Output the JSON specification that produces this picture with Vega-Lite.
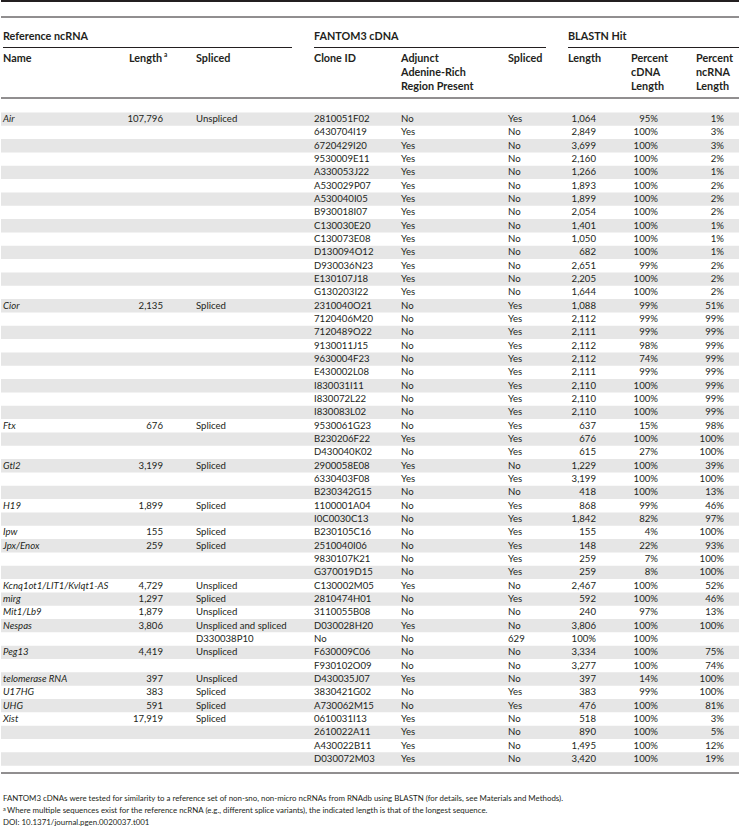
{
  "$schema": "https://vega.github.io/schema/vega-lite/v6.json",
  "autosize": {"type": "fit", "contains": "padding"},
  "width": 740,
  "height": 827,
  "padding": 0,
  "background": "white",
  "config": {"view": {"stroke": null}},
  "datasets": {
    "rows": [
      {"name": "Air", "len": "107,796", "spl": "Unspliced", "clone": "2810051F02", "ar": "No", "spl2": "Yes", "blen": "1,064", "pc": "95%", "pn": "1%"},
      {"name": "", "len": "", "spl": "", "clone": "6430704I19", "ar": "Yes", "spl2": "No", "blen": "2,849", "pc": "100%", "pn": "3%"},
      {"name": "", "len": "", "spl": "", "clone": "6720429I20", "ar": "Yes", "spl2": "No", "blen": "3,699", "pc": "100%", "pn": "3%"},
      {"name": "", "len": "", "spl": "", "clone": "9530009E11", "ar": "Yes", "spl2": "No", "blen": "2,160", "pc": "100%", "pn": "2%"},
      {"name": "", "len": "", "spl": "", "clone": "A330053J22", "ar": "Yes", "spl2": "No", "blen": "1,266", "pc": "100%", "pn": "1%"},
      {"name": "", "len": "", "spl": "", "clone": "A530029P07", "ar": "Yes", "spl2": "No", "blen": "1,893", "pc": "100%", "pn": "2%"},
      {"name": "", "len": "", "spl": "", "clone": "A530040I05", "ar": "Yes", "spl2": "No", "blen": "1,899", "pc": "100%", "pn": "2%"},
      {"name": "", "len": "", "spl": "", "clone": "B930018I07", "ar": "Yes", "spl2": "No", "blen": "2,054", "pc": "100%", "pn": "2%"},
      {"name": "", "len": "", "spl": "", "clone": "C130030E20", "ar": "Yes", "spl2": "No", "blen": "1,401", "pc": "100%", "pn": "1%"},
      {"name": "", "len": "", "spl": "", "clone": "C130073E08", "ar": "Yes", "spl2": "No", "blen": "1,050", "pc": "100%", "pn": "1%"},
      {"name": "", "len": "", "spl": "", "clone": "D130094O12", "ar": "Yes", "spl2": "No", "blen": "682", "pc": "100%", "pn": "1%"},
      {"name": "", "len": "", "spl": "", "clone": "D930036N23", "ar": "Yes", "spl2": "No", "blen": "2,651", "pc": "99%", "pn": "2%"},
      {"name": "", "len": "", "spl": "", "clone": "E130107J18", "ar": "Yes", "spl2": "No", "blen": "2,205", "pc": "100%", "pn": "2%"},
      {"name": "", "len": "", "spl": "", "clone": "G130203I22", "ar": "Yes", "spl2": "No", "blen": "1,644", "pc": "100%", "pn": "2%"},
      {"name": "Cior", "len": "2,135", "spl": "Spliced", "clone": "2310040O21", "ar": "No", "spl2": "Yes", "blen": "1,088", "pc": "99%", "pn": "51%"},
      {"name": "", "len": "", "spl": "", "clone": "7120406M20", "ar": "No", "spl2": "Yes", "blen": "2,112", "pc": "99%", "pn": "99%"},
      {"name": "", "len": "", "spl": "", "clone": "7120489O22", "ar": "No", "spl2": "Yes", "blen": "2,111", "pc": "99%", "pn": "99%"},
      {"name": "", "len": "", "spl": "", "clone": "9130011J15", "ar": "No", "spl2": "Yes", "blen": "2,112", "pc": "98%", "pn": "99%"},
      {"name": "", "len": "", "spl": "", "clone": "9630004F23", "ar": "No", "spl2": "Yes", "blen": "2,112", "pc": "74%", "pn": "99%"},
      {"name": "", "len": "", "spl": "", "clone": "E430002L08", "ar": "No", "spl2": "Yes", "blen": "2,111", "pc": "99%", "pn": "99%"},
      {"name": "", "len": "", "spl": "", "clone": "I830031I11", "ar": "No", "spl2": "Yes", "blen": "2,110", "pc": "100%", "pn": "99%"},
      {"name": "", "len": "", "spl": "", "clone": "I830072L22", "ar": "No", "spl2": "Yes", "blen": "2,110", "pc": "100%", "pn": "99%"},
      {"name": "", "len": "", "spl": "", "clone": "I830083L02", "ar": "No", "spl2": "Yes", "blen": "2,110", "pc": "100%", "pn": "99%"},
      {"name": "Ftx", "len": "676", "spl": "Spliced", "clone": "9530061G23", "ar": "No", "spl2": "Yes", "blen": "637", "pc": "15%", "pn": "98%"},
      {"name": "", "len": "", "spl": "", "clone": "B230206F22", "ar": "Yes", "spl2": "Yes", "blen": "676", "pc": "100%", "pn": "100%"},
      {"name": "", "len": "", "spl": "", "clone": "D430040K02", "ar": "No", "spl2": "Yes", "blen": "615", "pc": "27%", "pn": "100%"},
      {"name": "Gtl2", "len": "3,199", "spl": "Spliced", "clone": "2900058E08", "ar": "Yes", "spl2": "No", "blen": "1,229", "pc": "100%", "pn": "39%"},
      {"name": "", "len": "", "spl": "", "clone": "6330403F08", "ar": "Yes", "spl2": "Yes", "blen": "3,199", "pc": "100%", "pn": "100%"},
      {"name": "", "len": "", "spl": "", "clone": "B230342G15", "ar": "No", "spl2": "No", "blen": "418", "pc": "100%", "pn": "13%"},
      {"name": "H19", "len": "1,899", "spl": "Spliced", "clone": "1100001A04", "ar": "No", "spl2": "Yes", "blen": "868", "pc": "99%", "pn": "46%"},
      {"name": "", "len": "", "spl": "", "clone": "I0C0030C13", "ar": "No", "spl2": "Yes", "blen": "1,842", "pc": "82%", "pn": "97%"},
      {"name": "Ipw", "len": "155", "spl": "Spliced", "clone": "B230105C16", "ar": "No", "spl2": "Yes", "blen": "155", "pc": "4%", "pn": "100%"},
      {"name": "Jpx/Enox", "len": "259", "spl": "Spliced", "clone": "2510040I06", "ar": "No", "spl2": "Yes", "blen": "148", "pc": "22%", "pn": "93%"},
      {"name": "", "len": "", "spl": "", "clone": "9830107K21", "ar": "No", "spl2": "Yes", "blen": "259", "pc": "7%", "pn": "100%"},
      {"name": "", "len": "", "spl": "", "clone": "G370019D15", "ar": "No", "spl2": "Yes", "blen": "259", "pc": "8%", "pn": "100%"},
      {"name": "Kcnq1ot1/LIT1/Kvlqt1-AS", "len": "4,729", "spl": "Unspliced", "clone": "C130002M05", "ar": "Yes", "spl2": "No", "blen": "2,467", "pc": "100%", "pn": "52%"},
      {"name": "mirg", "len": "1,297", "spl": "Spliced", "clone": "2810474H01", "ar": "No", "spl2": "Yes", "blen": "592", "pc": "100%", "pn": "46%"},
      {"name": "Mit1/Lb9", "len": "1,879", "spl": "Unspliced", "clone": "3110055B08", "ar": "No", "spl2": "No", "blen": "240", "pc": "97%", "pn": "13%"},
      {"name": "Nespas", "len": "3,806", "spl": "Unspliced and spliced", "clone": "D030028H20", "ar": "Yes", "spl2": "No", "blen": "3,806", "pc": "100%", "pn": "100%"},
      {"name": "", "len": "", "spl": "D330038P10", "clone": "No", "ar": "No", "spl2": "629", "blen": "100%", "pc": "100%", "pn": ""},
      {"name": "Peg13", "len": "4,419", "spl": "Unspliced", "clone": "F630009C06", "ar": "No", "spl2": "No", "blen": "3,334", "pc": "100%", "pn": "75%"},
      {"name": "", "len": "", "spl": "", "clone": "F930102O09", "ar": "No", "spl2": "No", "blen": "3,277", "pc": "100%", "pn": "74%"},
      {"name": "telomerase RNA", "len": "397", "spl": "Unspliced", "clone": "D430035J07", "ar": "Yes", "spl2": "No", "blen": "397", "pc": "14%", "pn": "100%"},
      {"name": "U17HG", "len": "383", "spl": "Spliced", "clone": "3830421G02", "ar": "No", "spl2": "Yes", "blen": "383", "pc": "99%", "pn": "100%"},
      {"name": "UHG", "len": "591", "spl": "Spliced", "clone": "A730062M15", "ar": "No", "spl2": "Yes", "blen": "476", "pc": "100%", "pn": "81%"},
      {"name": "Xist", "len": "17,919", "spl": "Spliced", "clone": "0610031I13", "ar": "Yes", "spl2": "No", "blen": "518", "pc": "100%", "pn": "3%"},
      {"name": "", "len": "", "spl": "", "clone": "2610022A11", "ar": "Yes", "spl2": "No", "blen": "890", "pc": "100%", "pn": "5%"},
      {"name": "", "len": "", "spl": "", "clone": "A430022B11", "ar": "Yes", "spl2": "No", "blen": "1,495", "pc": "100%", "pn": "12%"},
      {"name": "", "len": "", "spl": "", "clone": "D030072M03", "ar": "Yes", "spl2": "No", "blen": "3,420", "pc": "100%", "pn": "19%"}
    ]
  },
  "data": {"name": "rows"},
  "layer": [
    {
      "transform": [{"window": [{"op": "row_number", "as": "i"}]}, {"filter": "datum.i % 2 == 1"}],
      "mark": {"type": "rect", "x": 0, "x2": "width", "color": "#e6e6e6"},
      "encoding": {"y": {"field": "i", "type": "ordinal", "axis": null, "scale": {"range": [112.4, 765.7], "paddingInner": 0, "paddingOuter": 0}}}
    },
    {
      "transform": [{"window": [{"op": "row_number", "as": "i"}]}],
      "mark": {"type": "text", "align": "left", "baseline": "middle", "x": 2, "font": "Lato", "fontSize": 9.6, "fontStyle": "italic", "color": "#231f20"},
      "encoding": {"y": {"field": "i", "type": "ordinal"}, "text": {"field": "name"}}
    },
    {
      "transform": [{"window": [{"op": "row_number", "as": "i"}]}],
      "mark": {"type": "text", "align": "right", "baseline": "middle", "x": 162, "font": "Lato", "fontSize": 9.6, "color": "#231f20"},
      "encoding": {"y": {"field": "i", "type": "ordinal"}, "text": {"field": "len"}}
    },
    {
      "transform": [{"window": [{"op": "row_number", "as": "i"}]}],
      "mark": {"type": "text", "align": "left", "baseline": "middle", "x": 195, "font": "Lato", "fontSize": 9.6, "color": "#231f20"},
      "encoding": {"y": {"field": "i", "type": "ordinal"}, "text": {"field": "spl"}}
    },
    {
      "transform": [{"window": [{"op": "row_number", "as": "i"}]}],
      "mark": {"type": "text", "align": "left", "baseline": "middle", "x": 313, "font": "Lato", "fontSize": 9.6, "color": "#231f20"},
      "encoding": {"y": {"field": "i", "type": "ordinal"}, "text": {"field": "clone"}}
    },
    {
      "transform": [{"window": [{"op": "row_number", "as": "i"}]}],
      "mark": {"type": "text", "align": "left", "baseline": "middle", "x": 400, "font": "Lato", "fontSize": 9.6, "color": "#231f20"},
      "encoding": {"y": {"field": "i", "type": "ordinal"}, "text": {"field": "ar"}}
    },
    {
      "transform": [{"window": [{"op": "row_number", "as": "i"}]}],
      "mark": {"type": "text", "align": "left", "baseline": "middle", "x": 507, "font": "Lato", "fontSize": 9.6, "color": "#231f20"},
      "encoding": {"y": {"field": "i", "type": "ordinal"}, "text": {"field": "spl2"}}
    },
    {
      "transform": [{"window": [{"op": "row_number", "as": "i"}]}],
      "mark": {"type": "text", "align": "right", "baseline": "middle", "x": 595, "font": "Lato", "fontSize": 9.6, "color": "#231f20"},
      "encoding": {"y": {"field": "i", "type": "ordinal"}, "text": {"field": "blen"}}
    },
    {
      "transform": [{"window": [{"op": "row_number", "as": "i"}]}],
      "mark": {"type": "text", "align": "right", "baseline": "middle", "x": 657, "font": "Lato", "fontSize": 9.6, "color": "#231f20"},
      "encoding": {"y": {"field": "i", "type": "ordinal"}, "text": {"field": "pc"}}
    },
    {
      "transform": [{"window": [{"op": "row_number", "as": "i"}]}],
      "mark": {"type": "text", "align": "right", "baseline": "middle", "x": 723, "font": "Lato", "fontSize": 9.6, "color": "#231f20"},
      "encoding": {"y": {"field": "i", "type": "ordinal"}, "text": {"field": "pn"}}
    },
    {"data": {"values": [{}]}, "mark": {"type": "rule", "strokeWidth": 2, "color": "#231f20"}, "encoding": {"x": {"value": 0}, "x2": {"value": "width"}, "y": {"value": 1}}},
    {"data": {"values": [{}]}, "mark": {"type": "rule", "strokeWidth": 1, "color": "#231f20"}, "encoding": {"x": {"value": 0}, "x2": {"value": "width"}, "y": {"value": 17}}},
    {"data": {"values": [{}]}, "mark": {"type": "rule", "strokeWidth": 1, "color": "#231f20"}, "encoding": {"x": {"value": 2}, "x2": {"value": 291}, "y": {"value": 47.5}}},
    {"data": {"values": [{}]}, "mark": {"type": "rule", "strokeWidth": 1, "color": "#231f20"}, "encoding": {"x": {"value": 313}, "x2": {"value": 545}, "y": {"value": 47.5}}},
    {"data": {"values": [{}]}, "mark": {"type": "rule", "strokeWidth": 1, "color": "#231f20"}, "encoding": {"x": {"value": 567}, "x2": {"value": 738}, "y": {"value": 47.5}}},
    {"data": {"values": [{}]}, "mark": {"type": "rule", "strokeWidth": 1, "color": "#231f20"}, "encoding": {"x": {"value": 0}, "x2": {"value": "width"}, "y": {"value": 98}}},
    {"data": {"values": [{}]}, "mark": {"type": "rule", "strokeWidth": 1, "color": "#231f20"}, "encoding": {"x": {"value": 0}, "x2": {"value": "width"}, "y": {"value": 773}}},
    {"data": {"values": [{"t": "Reference ncRNA"}]}, "mark": {"type": "text", "align": "left", "baseline": "middle", "x": 2, "y": 37, "font": "Lato", "fontSize": 10.8, "fontWeight": "bold", "color": "#231f20"}, "encoding": {"text": {"field": "t"}}},
    {"data": {"values": [{"t": "FANTOM3 cDNA"}]}, "mark": {"type": "text", "align": "left", "baseline": "middle", "x": 313, "y": 37, "font": "Lato", "fontSize": 10.8, "fontWeight": "bold", "color": "#231f20"}, "encoding": {"text": {"field": "t"}}},
    {"data": {"values": [{"t": "BLASTN Hit"}]}, "mark": {"type": "text", "align": "left", "baseline": "middle", "x": 567, "y": 37, "font": "Lato", "fontSize": 10.8, "fontWeight": "bold", "color": "#231f20"}, "encoding": {"text": {"field": "t"}}},
    {"data": {"values": [{"t": "Name"}]}, "mark": {"type": "text", "align": "left", "baseline": "middle", "x": 2, "y": 59, "font": "Lato", "fontSize": 10.8, "fontWeight": "bold", "color": "#231f20"}, "encoding": {"text": {"field": "t"}}},
    {"data": {"values": [{"t": "Length"}]}, "mark": {"type": "text", "align": "left", "baseline": "middle", "x": 128, "y": 59, "font": "Lato", "fontSize": 10.8, "fontWeight": "bold", "color": "#231f20"}, "encoding": {"text": {"field": "t"}}},
    {"data": {"values": [{"t": "a"}]}, "mark": {"type": "text", "align": "left", "baseline": "middle", "x": 163, "y": 55, "font": "Lato", "fontSize": 6.5, "fontWeight": "bold", "color": "#231f20"}, "encoding": {"text": {"field": "t"}}},
    {"data": {"values": [{"t": "Spliced"}]}, "mark": {"type": "text", "align": "left", "baseline": "middle", "x": 195, "y": 59, "font": "Lato", "fontSize": 10.8, "fontWeight": "bold", "color": "#231f20"}, "encoding": {"text": {"field": "t"}}},
    {"data": {"values": [{"t": "Clone ID"}]}, "mark": {"type": "text", "align": "left", "baseline": "middle", "x": 313, "y": 59, "font": "Lato", "fontSize": 10.8, "fontWeight": "bold", "color": "#231f20"}, "encoding": {"text": {"field": "t"}}},
    {"data": {"values": [{"t": ["Adjunct", "Adenine-Rich", "Region Present"]}]}, "mark": {"type": "text", "align": "left", "baseline": "middle", "x": 400, "y": 59, "lineHeight": 14, "font": "Lato", "fontSize": 10.8, "fontWeight": "bold", "color": "#231f20"}, "encoding": {"text": {"field": "t"}}},
    {"data": {"values": [{"t": "Spliced"}]}, "mark": {"type": "text", "align": "left", "baseline": "middle", "x": 507, "y": 59, "font": "Lato", "fontSize": 10.8, "fontWeight": "bold", "color": "#231f20"}, "encoding": {"text": {"field": "t"}}},
    {"data": {"values": [{"t": "Length"}]}, "mark": {"type": "text", "align": "left", "baseline": "middle", "x": 567, "y": 59, "font": "Lato", "fontSize": 10.8, "fontWeight": "bold", "color": "#231f20"}, "encoding": {"text": {"field": "t"}}},
    {"data": {"values": [{"t": ["Percent", "cDNA", "Length"]}]}, "mark": {"type": "text", "align": "left", "baseline": "middle", "x": 630, "y": 59, "lineHeight": 14, "font": "Lato", "fontSize": 10.8, "fontWeight": "bold", "color": "#231f20"}, "encoding": {"text": {"field": "t"}}},
    {"data": {"values": [{"t": ["Percent", "ncRNA", "Length"]}]}, "mark": {"type": "text", "align": "left", "baseline": "middle", "x": 695, "y": 59, "lineHeight": 14, "font": "Lato", "fontSize": 10.8, "fontWeight": "bold", "color": "#231f20"}, "encoding": {"text": {"field": "t"}}},
    {"data": {"values": [{"t": "FANTOM3 cDNAs were tested for similarity to a reference set of non-sno, non-micro ncRNAs from RNAdb using BLASTN (for details, see Materials and Methods)."}]}, "mark": {"type": "text", "align": "left", "baseline": "middle", "x": 2, "y": 799, "font": "Lato", "fontSize": 7.9, "color": "#231f20"}, "encoding": {"text": {"field": "t"}}},
    {"data": {"values": [{"t": "a"}]}, "mark": {"type": "text", "align": "left", "baseline": "middle", "x": 2, "y": 808.5, "font": "Lato", "fontSize": 5.5, "color": "#231f20"}, "encoding": {"text": {"field": "t"}}},
    {"data": {"values": [{"t": "Where multiple sequences exist for the reference ncRNA (e.g., different splice variants), the indicated length is that of the longest sequence."}]}, "mark": {"type": "text", "align": "left", "baseline": "middle", "x": 6, "y": 811, "font": "Lato", "fontSize": 7.9, "color": "#231f20"}, "encoding": {"text": {"field": "t"}}},
    {"data": {"values": [{"t": "DOI: 10.1371/journal.pgen.0020037.t001"}]}, "mark": {"type": "text", "align": "left", "baseline": "middle", "x": 2, "y": 822.5, "font": "Lato", "fontSize": 7.9, "color": "#231f20"}, "encoding": {"text": {"field": "t"}}}
  ]
}
